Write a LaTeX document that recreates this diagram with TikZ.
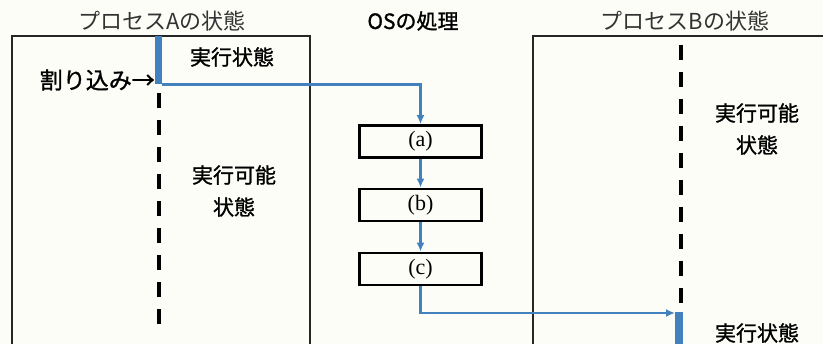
\documentclass[tikz,border=0pt]{standalone}
\usepackage{fontspec}
\newfontfamily\jp{Noto Sans CJK JP}
\newfontfamily\jpm{Noto Sans CJK JP}[FakeBold=1.2]
\newfontfamily\ser{Liberation Serif}
\usetikzlibrary{arrows.meta}
\definecolor{bl}{RGB}{66,128,190}
\definecolor{bg}{RGB}{253,253,248}
\tikzset{
  frame/.style={draw=black!85, line width=1.5pt},
  osbox/.style={draw=black, line width=2.8pt, minimum width=122pt, minimum height=32pt, inner sep=0pt, font=\ser\fontsize{22}{22}\selectfont},
  lbl/.style={font=\jpm\fontsize{21}{32}\selectfont, align=center, inner sep=0pt},
  ttl/.style={font=\jp\fontsize{22}{24}\selectfont, inner sep=0pt, text=black!80},
  flow/.style={draw=bl, line width=2.5pt, -{Latex[length=9pt,width=8pt]}},
  dashline/.style={line width=3.5pt, dash pattern=on 15pt off 12pt},
  bar/.style={fill=bl, draw=none, inner sep=0pt}
}
\begin{document}
\begin{tikzpicture}[x=1pt,y=-1pt]
\useasboundingbox (0,0) rectangle (823,344);
\fill[bg] (0,0) rectangle (823,344);
\clip (0,0) rectangle (823,344);
% frames
\draw[frame] (12,350) -- (12,36) -- (310,36) -- (310,350);
\draw[frame] (533,350) -- (533,36) -- (830,36);
% titles
\node[ttl] (tA) at (162,21) {プロセスAの状態};
\node[ttl, font=\jpm\fontsize{21}{24}\selectfont, text=black] (tOS) at (413,21) {OSの処理};
\node[ttl] (tB) at (685,21) {プロセスBの状態};
% process A
\node[bar, minimum width=7pt, minimum height=48pt, anchor=north] (barA) at (158.5,36) {};
\draw[dashline] (159,93) -- (159,335);
\node[lbl] (runA) at (232,57) {実行状態};
\node[lbl, anchor=east, font=\jpm\fontsize{23}{28}\selectfont] (intr) at (155,80) {割り込み→};
\node[lbl] (readyA) at (234,191) {実行可能\\状態};
% OS boxes
\node[osbox] (a) at (420.5,141.5) {(a)};
\node[osbox] (b) at (420.5,205) {(b)};
\node[osbox] (c) at (420.5,269) {(c)};
% process B
\node[bar, minimum width=8pt, minimum height=40pt, anchor=north west] (barB) at (675,312) {};
\draw[dashline] (681,45) -- (681,305);
\node[lbl] (readyB) at (757,129) {実行可能\\状態};
\node[lbl] (runB) at (757,333) {実行状態};
% flow
\draw[flow] (barA.south east) -| (a.north);
\draw[flow] (a.south) -- (b.north);
\draw[flow] (b.south) -- (c.north);
\draw[flow] (c.south) |- ([yshift=-1pt]barB.north west);
\end{tikzpicture}
\end{document}
